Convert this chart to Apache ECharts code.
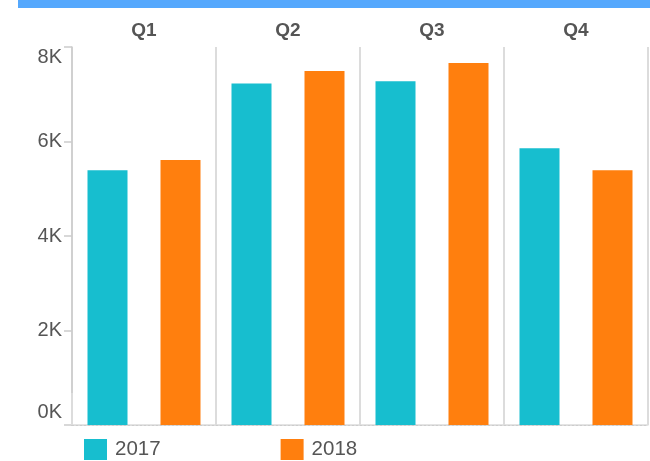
<!DOCTYPE html>
<html>
<head>
<meta charset="utf-8">
<script src="https://cdn.jsdelivr.net/npm/echarts@6/dist/echarts.min.js"></script>
<style>
  html, body { margin: 0; padding: 0; background: #fff; }
  #chart { width: 650px; height: 461px; }
</style>
</head>
<body>
<div id="chart"></div>
<script>
// quarters and yearly values
const quarters = ['Q1', 'Q2', 'Q3', 'Q4'];
const years = ['2017', '2018'];
const sales2017 = [5390, 7230, 7275, 5855];
const sales2018 = [5610, 7490, 7660, 5390];
const yTicks = [0, 2000, 4000, 6000, 8000];

const FONT = 'Liberation Sans, Arial, sans-serif';
const GRID_LINE = '#dcdcdc';
const TEXT = '#555555';

let chart = echarts.init(document.getElementById('chart'));

let option = {
  animation: false,
  textStyle: { fontFamily: FONT },
  color: ['#17becf', '#ff7f0e'],
  graphic: [
    {
      type: 'rect',
      shape: { x: 18, y: 0, width: 632, height: 8 },
      style: { fill: '#55a8fd' },
      silent: true
    }
  ],
  grid: {
    left: 72,
    right: 2,
    top: 47,
    bottom: 36
  },
  legend: {
    data: years,
    left: 84,
    top: 439,
    padding: 0,
    icon: 'rect',
    itemWidth: 23,
    itemHeight: 21,
    itemGap: 120,
    textStyle: { fontSize: 20.5, color: TEXT, fontFamily: FONT, padding: [2, 0, 0, 3] }
  },
  xAxis: [
    {
      type: 'category',
      data: quarters,
      position: 'top',
      offset: 1,
      axisLine: { show: true, lineStyle: { color: GRID_LINE, width: 1.5 } },
      axisTick: { show: true, length: 32, lineStyle: { color: GRID_LINE, width: 2 } },
      axisLabel: {
        fontSize: 19,
        fontWeight: 'bold',
        color: TEXT,
        margin: 6
      },
      splitLine: { show: true, lineStyle: { color: GRID_LINE, width: 2 } }
    },
    {
      type: 'category',
      data: quarters,
      position: 'bottom',
      axisLine: { show: true, lineStyle: { color: '#cccccc', width: 1, type: [2, 2] } },
      axisTick: { show: false },
      axisLabel: { show: false }
    }
  ],
  yAxis: {
    type: 'value',
    min: yTicks[0],
    max: yTicks[yTicks.length - 1],
    interval: 2000,
    axisLine: { show: true, lineStyle: { color: '#cccccc', width: 1.5 } },
    axisTick: { show: true, length: 8, lineStyle: { color: '#cccccc', width: 1.5 } },
    splitLine: { show: false },
    axisLabel: {
      fontSize: 20,
      color: TEXT,
      margin: 10,
      formatter: function (v) {
        let s = (v / 1000) + 'K';
        if (v === yTicks[0]) return '{lo|' + s + '}';
        if (v === yTicks[yTicks.length - 1]) return '{hi|' + s + '}';
        return s;
      },
      rich: {
        lo: { fontSize: 20, color: TEXT, fontFamily: FONT, padding: [0, 0, 26, 0] },
        hi: { fontSize: 20, color: TEXT, fontFamily: FONT, padding: [21, 0, 0, 0] }
      }
    }
  },
  series: [
    {
      name: years[0],
      type: 'bar',
      xAxisIndex: 0,
      data: sales2017,
      barWidth: 40,
      barGap: '82.5%'
    },
    {
      name: years[1],
      type: 'bar',
      xAxisIndex: 0,
      data: sales2018,
      barWidth: 40,
      barGap: '82.5%'
    }
  ]
};

chart.setOption(option);
</script>
</body>
</html>
